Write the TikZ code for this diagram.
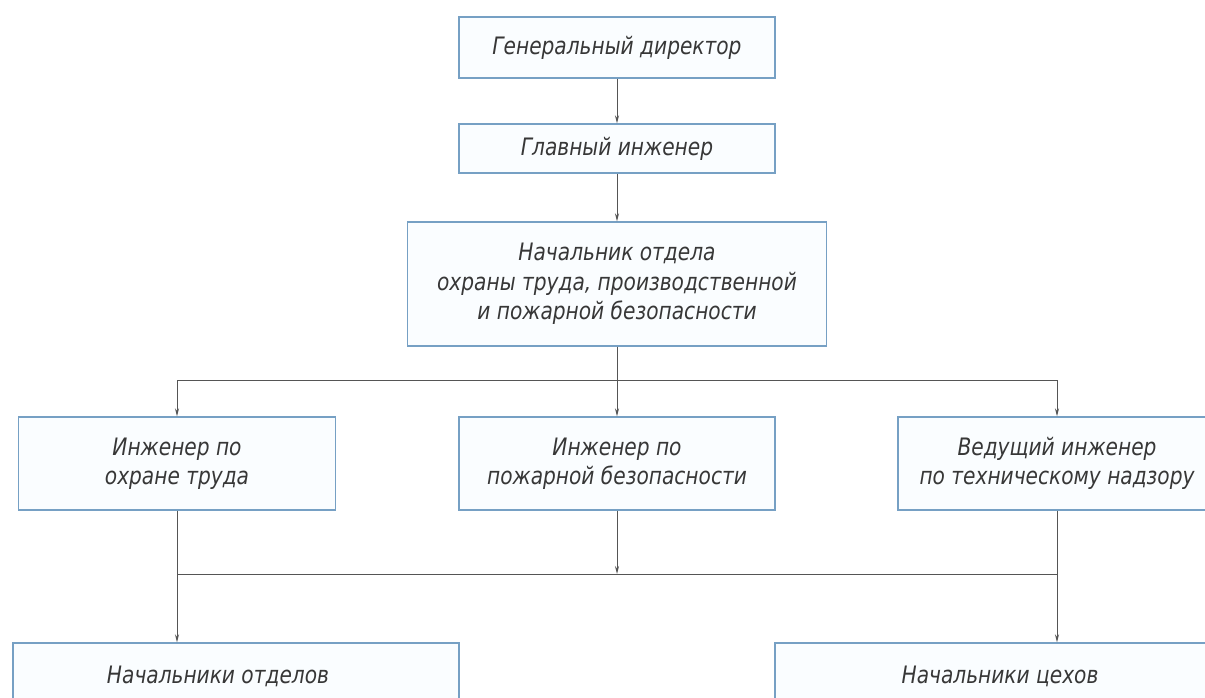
\documentclass[tikz,border=0pt]{standalone}
\usepackage{fontspec}
\usetikzlibrary{arrows.meta}
\newfontfamily\gost[FakeStretch=0.84]{DejaVu Sans}
\definecolor{boxblue}{RGB}{118,160,196}
\definecolor{linegray}{RGB}{85,85,85}
\definecolor{textgray}{RGB}{55,55,55}
\definecolor{boxfill}{RGB}{250,253,255}
\tikzset{
  orgbox/.style={draw=boxblue, line width=1.4pt, fill=boxfill, inner sep=0pt,
    font=\gost\itshape\fontsize{24}{29.5}\selectfont, text=textgray, align=center},
  ln/.style={draw=linegray, line width=0.9pt},
  arr/.style={ln, -{Stealth[length=8pt,width=4pt]}}
}
\begin{document}
\begin{tikzpicture}[x=1pt,y=-1pt]
\useasboundingbox (0,0) rectangle (1205,698);
\fill[white] (0,0) rectangle (1205,698);
\node[orgbox, minimum width=316pt, minimum height=61pt] (b1) at (617,47.5) {Генеральный директор};
\node[orgbox, minimum width=316pt, minimum height=49pt] (b2) at (617,148.5) {Главный инженер};
\node[orgbox, minimum width=419pt, minimum height=124pt] (b3) at (617,284) {Начальник отдела\\охраны труда, производственной\\и пожарной безопасности};
\node[orgbox, minimum width=317pt, minimum height=93pt] (b4) at (177,463.5) {Инженер по\\охране труда};
\node[orgbox, minimum width=316pt, minimum height=93pt] (b5) at (617,463.5) {Инженер по\\пожарной безопасности};
\node[orgbox, minimum width=318pt, minimum height=93pt] (b6) at (1057,463.5) {Ведущий инженер\\по техническому надзору};
\node[orgbox, minimum width=446pt, minimum height=66pt] (b7) at (236,676) {Начальники отделов\hspace*{36pt}};
\node[orgbox, minimum width=450pt, minimum height=66pt] (b8) at (1000,676) {Начальники цехов};
\coordinate (jl) at (177,380);
\coordinate (jr) at (1057,380);
\coordinate (kl) at (177,574);
\coordinate (kr) at (1057,574);
\draw[arr] (b1.south) -- (b2.north);
\draw[arr] (b2.south) -- (b3.north);
\draw[ln] (b3.south) -- (b3.south |- jl);
\draw[ln] (jl) -- (jr);
\draw[arr] (jl) -- (jl |- b4.north);
\draw[arr] (b3.south |- jl) -- (b5.north);
\draw[arr] (jr) -- (jr |- b6.north);
\draw[ln] (kl) -- (kr);
\draw[arr] (b5.south) -- (b5.south |- kl);
\draw[arr] (b4.south) -- (b4.south |- b7.north);
\draw[arr] (b6.south) -- (b6.south |- b8.north);
\end{tikzpicture}
\end{document}
